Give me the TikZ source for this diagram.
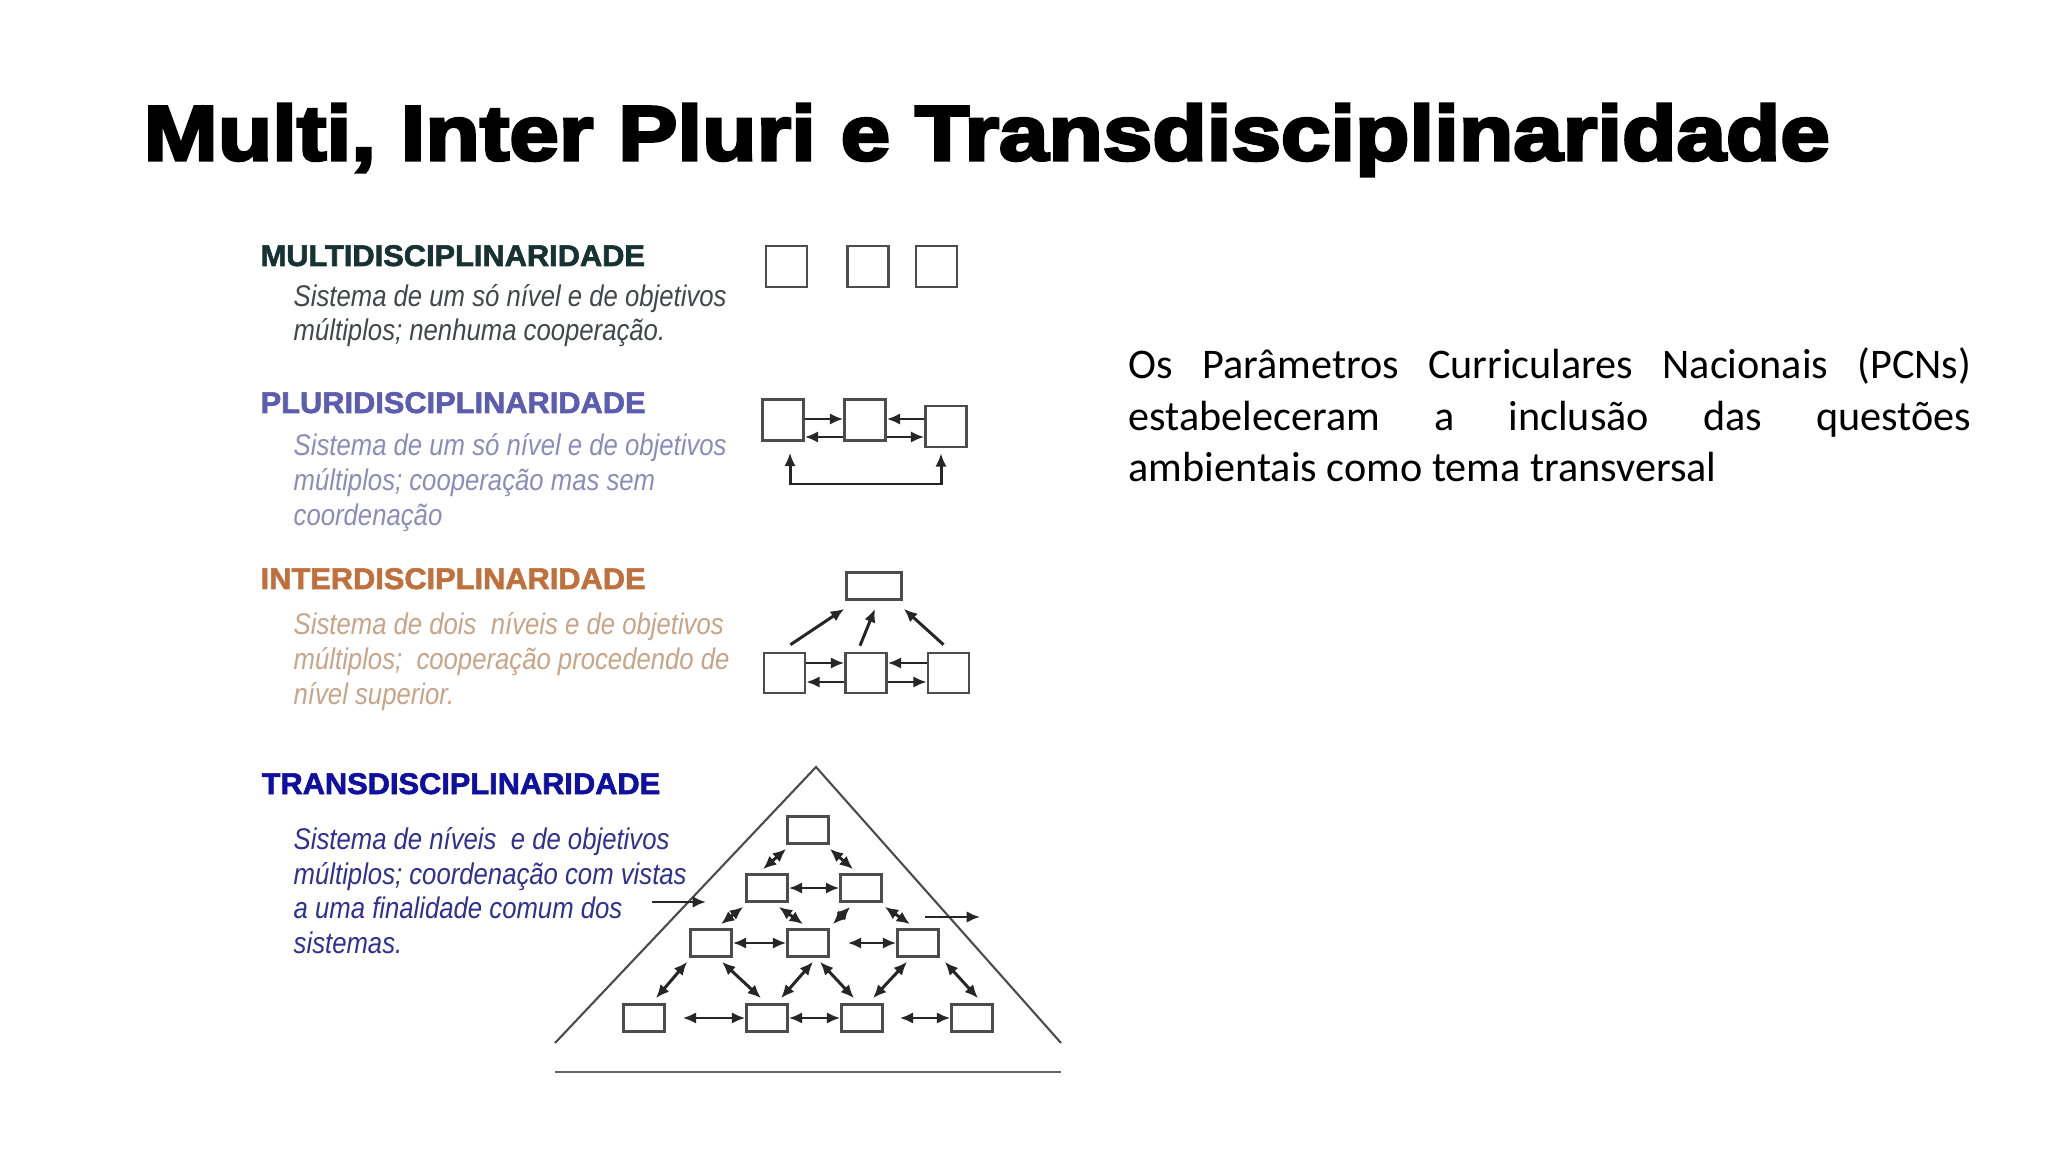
\documentclass[tikz,border=0pt]{standalone}
\usepackage{fontspec}
\setmainfont{Carlito}
\newfontfamily\titlefont[FakeStretch=1.15,FakeBold=4]{Liberation Sans}
\newfontfamily\headfont[FakeStretch=1.03,FakeBold=2]{Liberation Sans}
\newfontfamily\descfont[FakeStretch=0.86]{Liberation Sans}
\usetikzlibrary{arrows.meta, positioning, calc}
\definecolor{multihead}{RGB}{22,50,50}
\definecolor{multitext}{RGB}{64,72,72}
\definecolor{plurihead}{RGB}{92,92,176}
\definecolor{pluritext}{RGB}{140,140,184}
\definecolor{interhead}{RGB}{192,112,60}
\definecolor{intertext}{RGB}{200,164,136}
\definecolor{transhead}{RGB}{16,16,160}
\definecolor{transtext}{RGB}{48,48,144}

\begin{document}
\begin{tikzpicture}[x=0.01cm, y=-0.01cm, >={Latex[length=3.8pt,width=3.3pt]},
  every node/.style = {inner sep=0pt},
  box/.style = {draw=black!70, line width=0.75pt, minimum width=0.41cm, minimum height=0.41cm},
  tbox/.style = {box, minimum height=0.27cm},
  head/.style = {anchor=base west, font=\headfont\bfseries\fontsize{8.5}{10}\selectfont},
  desc/.style = {anchor=base west, align=left, font=\descfont\itshape\fontsize{8.5}{9.85}\selectfont},
  link/.style = {line width=0.85pt, draw=black!85},
  dlink/.style = {link, <->}]
  \fill[white] (0,0) rectangle (2048,1152);
  \useasboundingbox (0,0) rectangle (2048,1152);

  \node[anchor=base west, font=\titlefont\bfseries\fontsize{22}{26}\selectfont] (title) at (143,160)
    {Multi, Inter Pluri e Transdisciplinaridade};

  \node[anchor=base west, text width=8.42cm, align=justify, font=\fontsize{12}{14.6}\selectfont] (pcn) at (1128,379)
    {Os Parâmetros Curriculares Nacionais (PCNs)\linebreak estabeleceram a inclusão das questões\linebreak ambientais como tema transversal};

  % multi (desc nodes sit on their last line)
  \node[head, text=multihead] (multi) at (260,266) {MULTIDISCIPLINARIDADE};
  \node[desc, text=multitext] (multid) at (293,340.7) {Sistema de um só nível e de objetivos\\múltiplos; nenhuma cooperação.};
  \node[box] (m1) at (786.5,266.5) {};
  \node[box] (m2) at (868,266.5) {};
  \node[box] (m3) at (936.5,266.5) {};

  % pluri
  \node[head, text=plurihead] (pluri) at (260,413) {PLURIDISCIPLINARIDADE};
  \node[desc, text=pluritext] (plurid) at (293,525) {Sistema de um só nível e de objetivos\\múltiplos; cooperação mas sem\\coordenação};
  \node[box] (p1) at (783,420) {};
  \node[box] (p2) at (865,420) {};
  \node[box] (p3) at (946,426.5) {};
  \coordinate (ptop) at (0,419);
  \coordinate (pbot) at (0,437);
  \coordinate (pl) at (790,484);
  \coordinate (pr) at (941,484);
  \draw[link,->] (p1.east |- ptop) -- (p2.west |- ptop);
  \draw[link,->] (p3.west |- ptop) -- (p2.east |- ptop);
  \draw[link,->] (p2.west |- pbot) -- (p1.east |- pbot);
  \draw[link,->] (p2.east |- pbot) -- (p3.west |- pbot);
  \draw[link,<->] ($(p1.south -| pl)+(0,11)$) -- (pl) -- (pr) -- ($(p3.south -| pr)+(0,5)$);

  % inter
  \node[head, text=interhead] (inter) at (260,589) {INTERDISCIPLINARIDADE};
  \node[desc, text=intertext] (interd) at (293,704) {Sistema de dois~ níveis e de objetivos\\múltiplos;~ cooperação procedendo de\\nível superior.};
  \node[box, minimum width=0.55cm, minimum height=0.27cm] (i0) at (874,586) {};
  \node[box, minimum height=0.40cm] (i1) at (784.5,673) {};
  \node[box, minimum height=0.40cm] (i2) at (866,673) {};
  \node[box, minimum height=0.40cm] (i3) at (948.5,673) {};
  \coordinate (itop) at (0,663);
  \coordinate (ibot) at (0,682);
  \draw[link,->] ($(i1.north)+(6,-7)$) -- ($(i0.south west)+(-1,8)$);
  \draw[link,->] ($(i2.north)+(-6,-6)$) -- ($(i0.south)+(1,8)$);
  \draw[link,->] ($(i3.north)+(-5,-7)$) -- ($(i0.south east)+(1,8)$);
  \draw[link,->] (i1.east |- itop) -- (i2.west |- itop);
  \draw[link,->] (i3.west |- itop) -- (i2.east |- itop);
  \draw[link,->] (i2.west |- ibot) -- (i1.east |- ibot);
  \draw[link,->] (i2.east |- ibot) -- (i3.west |- ibot);

  % trans
  \node[head, text=transhead] (trans) at (261,794) {TRANSDISCIPLINARIDADE};
  \node[desc, text=transtext] (transd) at (293,953.5) {Sistema de níveis~ e de objetivos\\múltiplos; coordenação com vistas\\a uma finalidade comum dos\\sistemas.};
  \coordinate (apex) at (816,767);
  \coordinate (bl) at (555,1043);
  \coordinate (br) at (1061,1043);
  \coordinate (gl) at (555,1072);
  \coordinate (gr) at (1061,1072);
  \draw[line width=0.6pt, black!70] (bl) -- (apex) -- (br);
  \draw[line width=0.7pt, black!60] (gl) -- (gr);
  \node[tbox] (t1) at (808,830) {};
  \node[tbox] (t2a) at (767,888) {};
  \node[tbox] (t2b) at (861,888) {};
  \node[tbox] (t3a) at (711,943) {};
  \node[tbox] (t3b) at (808,943) {};
  \node[tbox] (t3c) at (918,943) {};
  \node[tbox] (t4a) at (644,1018) {};
  \node[tbox] (t4b) at (767,1018) {};
  \node[tbox] (t4c) at (862,1018) {};
  \node[tbox] (t4d) at (972,1018) {};
  \draw[dlink] ($(t1.south west)+(0,4)$) -- ($(t2a.north)+(-4,-4)$);
  \draw[dlink] ($(t1.south east)+(0,4)$) -- ($(t2b.north)+(-8,-4)$);
  \draw[dlink] ($(t2a.south west)+(-2,4)$) -- ($(t3a.north)+(10,-4)$);
  \draw[dlink] ($(t2a.south east)+(-10,4)$) -- ($(t3b.north)+(-5,-4)$);
  \draw[dlink] ($(t2b.south west)+(11,4)$) -- ($(t3b.north east)+(3,-4)$);
  \draw[dlink] ($(t2b.south east)+(2,4)$) -- ($(t3c.north)+(-8,-4)$);
  \draw[dlink] ($(t3a.south west)+(-2,4)$) -- ($(t4a.north)+(12,-5)$);
  \draw[dlink] ($(t3a.south)+(11,4)$) -- ($(t4b.north)+(-6,-5)$);
  \draw[dlink] ($(t3b.south)+(5,4)$) -- ($(t4b.north)+(14,-5)$);
  \draw[dlink] ($(t3b.south)+(12,4)$) -- ($(t4c.north)+(-8,-5)$);
  \draw[dlink] ($(t3c.south)+(-11,4)$) -- ($(t4c.north)+(11,-5)$);
  \draw[dlink] ($(t3c.south east)+(5,4)$) -- ($(t4d.north)+(6,-5)$);
  \draw[dlink] (t2a.east) -- (t2b.west);
  \draw[dlink] (t3a.east) -- (t3b.west);
  \draw[dlink] ($(t3b.east)+(18,0)$) -- (t3c.west);
  \draw[dlink] ($(t4a.east)+(17,0)$) -- (t4b.west);
  \draw[dlink] (t4b.east) -- (t4c.west);
  \draw[dlink] ($(t4c.east)+(16,0)$) -- (t4d.west);
  \coordinate (in0) at (652,902);
  \coordinate (in1) at (706,902);
  \coordinate (out0) at (925,917);
  \coordinate (out1) at (980,917);
  \draw[link,->] (in0) -- (in1);
  \draw[link,->] (out0) -- (out1);
\end{tikzpicture}
\end{document}
